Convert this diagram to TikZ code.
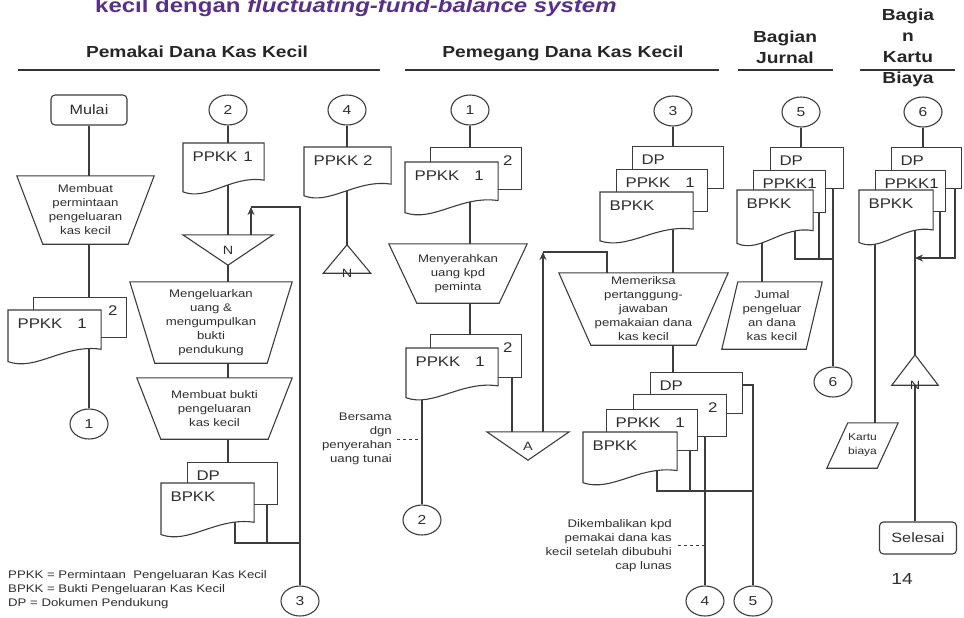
\documentclass[tikz,border=0pt]{standalone}
\usepackage{fontspec}
\setmainfont{Liberation Sans}[FakeStretch=1.2]
\usetikzlibrary{shapes.geometric, arrows.meta, backgrounds}

\definecolor{lc}{HTML}{3C3C3C}
\definecolor{tc}{HTML}{2E2E2E}
\definecolor{ttl}{HTML}{58308A}

\newcommand{\doctext}{\fontsize{14}{16}\selectfont}
\newcommand{\boxtext}{\fontsize{11}{14}\selectfont}
\newcommand{\headtext}{\fontsize{16}{21}\selectfont\bfseries}
\newcommand{\kgap}{\hspace{15pt}}

% flowchart document symbol: flat top, wavy bottom
\makeatletter
\pgfdeclareshape{wavedoc}{
  \inheritsavedanchors[from=rectangle]
  \inheritanchorborder[from=rectangle]
  \inheritanchor[from=rectangle]{center}
  \inheritanchor[from=rectangle]{north}
  \inheritanchor[from=rectangle]{south}
  \inheritanchor[from=rectangle]{east}
  \inheritanchor[from=rectangle]{west}
  \inheritanchor[from=rectangle]{north east}
  \inheritanchor[from=rectangle]{north west}
  \inheritanchor[from=rectangle]{south east}
  \inheritanchor[from=rectangle]{south west}
  \backgroundpath{%
    \southwest \edef\wdc@xa{\the\pgf@x}\edef\wdc@ya{\the\pgf@y}%
    \northeast \edef\wdc@xb{\the\pgf@x}\edef\wdc@yb{\the\pgf@y}%
    \pgfpathmoveto{\pgfpoint{\wdc@xa}{\wdc@yb}}%
    \pgfpathlineto{\pgfpoint{\wdc@xb}{\wdc@yb}}%
    \pgfpathlineto{\pgfpoint{\wdc@xb}{\wdc@ya+0.3*((\wdc@yb)-(\wdc@ya))}}%
    \pgfpathcurveto
      {\pgfpoint{\wdc@xa+0.6*((\wdc@xb)-(\wdc@xa))}{\wdc@ya+0.4*((\wdc@yb)-(\wdc@ya))}}%
      {\pgfpoint{\wdc@xa+0.3*((\wdc@xb)-(\wdc@xa))}{\wdc@ya-0.1*((\wdc@yb)-(\wdc@ya))}}%
      {\pgfpoint{\wdc@xa}{\wdc@ya+0.08*((\wdc@yb)-(\wdc@ya))}}%
    \pgfpathclose
  }
}
\makeatother

\tikzset{
  wire/.style={draw=lc, line width=1.1pt},
  laneline/.style={draw=black!80, line width=1.8pt},
  lane/.style={anchor=base, font=\headtext, text=black!85, inner sep=0pt, align=center},
  offpage/.style={ellipse, draw=lc, line width=1.1pt, fill=white, minimum width=38pt,
    minimum height=30pt, inner sep=0pt, font=\fontsize{13}{13}\selectfont},
  term/.style={rectangle, rounded corners=4pt, draw=lc, line width=1.1pt, fill=white,
    font=\fontsize{13.5}{14}\selectfont},
  doc/.code 2 args={\pgfmathsetmacro\docw{#1-18}\pgfmathsetmacro\docd{#2-21}%
    \tikzset{wavedoc, draw=lc, line width=1.1pt, fill=white, anchor=north west,
      inner xsep=9pt, inner ysep=3pt, text width=\docw pt, text height=15pt,
      text depth=\docd pt, align=left, font=\doctext}},
  sheet/.code 2 args={\pgfmathsetmacro\docw{#1-18}\pgfmathsetmacro\docd{#2-21}%
    \tikzset{rectangle, draw=lc, line width=1.1pt, fill=white, anchor=north west,
      inner xsep=9pt, inner ysep=3pt, text width=\docw pt, text height=15pt,
      text depth=\docd pt, align=left, font=\doctext}},
  manual/.style={rectangle, inner sep=0pt, align=center,
    append after command={\pgfextra{\begin{pgfinterruptpath}
      \draw[wire] (\tikzlastnode.north west) -- (\tikzlastnode.north east)
        -- ([xshift=-#1]\tikzlastnode.south east) -- ([xshift=#1]\tikzlastnode.south west) -- cycle;
    \end{pgfinterruptpath}}}},
  io/.style={rectangle, inner sep=0pt, align=center,
    append after command={\pgfextra{\begin{pgfinterruptpath}
      \draw[wire] (\tikzlastnode.south west) -- ([xshift=#1]\tikzlastnode.north west)
        -- (\tikzlastnode.north east) -- ([xshift=-#1]\tikzlastnode.south east) -- cycle;
    \end{pgfinterruptpath}}}},
  mergedown/.style={rectangle, inner sep=0pt, font=\fontsize{12}{12}\selectfont,
    append after command={\pgfextra{\begin{pgfinterruptpath}
      \draw[wire] (\tikzlastnode.north west) -- (\tikzlastnode.north east)
        -- (\tikzlastnode.south) -- cycle;
    \end{pgfinterruptpath}}}},
  mergeup/.style={rectangle, inner sep=0pt,
    label={[anchor=center, inner sep=0pt, font=\fontsize{12}{12}\selectfont]south:N},
    append after command={\pgfextra{\begin{pgfinterruptpath}
      \draw[wire] (\tikzlastnode.south west) -- (\tikzlastnode.south east)
        -- (\tikzlastnode.north) -- cycle;
    \end{pgfinterruptpath}}}},
  note/.style={anchor=north east, inner sep=0pt, align=right, font=\boxtext}
}

\begin{document}
\begin{tikzpicture}[x=1pt, y=-1pt, >={Stealth[length=8pt, width=7pt]}, font=\boxtext, text=tc]
\useasboundingbox (0,0) rectangle (964,618);

% title and lanes
\node[anchor=base west, inner sep=0pt, text=ttl, font=\fontsize{20}{24}\selectfont\bfseries]
  (title) at (95,13) {kecil dengan \textit{fluctuating-fund-balance system}};
\node[lane] (hdA) at (197,58) {Pemakai Dana Kas Kecil};
\node[lane] (hdB) at (563,58) {Pemegang Dana Kas Kecil};
\node[lane, anchor=north] (hdC) at (785,30.5) {Bagian\\Jurnal};
\node[lane, anchor=north] (hdD) at (908,8.5) {Bagia\\n\\Kartu\\Biaya};
\draw[laneline] (18,70) -- (380,70);
\draw[laneline] (405,70) -- (719,70);
\draw[laneline] (738,70) -- (833,70);
\draw[laneline] (860,70) -- (955,70);

% Pemakai Dana Kas Kecil
\node[term, minimum width=76pt, minimum height=30pt] (mulai) at (89,110) {Mulai};
\node[manual=26pt, minimum width=137pt, minimum height=68pt] (t1) at (85.5,210)
  {Membuat\\permintaan\\pengeluaran\\kas kecil};
\node[sheet={93}{40}] (s1b) at (33,297) {\hfill 2};
\node[doc={92}{55}] (d1) at (8,310) {PPKK\kgap 1};
\node[offpage] (c1a) at (89,424) {1};

\node[offpage] (c2a) at (228,110) {2};
\node[doc={80}{52}] (d2) at (183,143) {\mbox{PPKK\hspace{6pt}1}};
\node[mergedown, minimum width=90pt, minimum height=30pt] (n1) at (228,250) {N};
\node[manual=25pt, minimum width=162pt, minimum height=81pt] (t2) at (211,322.5)
  {Mengeluarkan\\uang \&\\mengumpulkan\\bukti\\pendukung};
\node[manual=24pt, minimum width=155pt, minimum height=61pt] (t3) at (214.5,408.5)
  {Membuat bukti\\pengeluaran\\kas kecil};
\node[sheet={90}{42}] (s3b) at (187,462) {DP};
\node[doc={92}{55}] (d4) at (161,483) {BPKK};
\node[offpage] (c3a) at (300,601) {3};

\node[offpage] (c4a) at (347,110) {4};
\node[doc={86}{52}] (d3) at (304,147) {PPKK 2};
\node[mergeup, minimum width=47pt, minimum height=28pt] (n2) at (347,259) {};

\node[anchor=north west, inner sep=0pt, align=left, font=\boxtext] (legend) at (8,570)
  {PPKK = Permintaan \ Pengeluaran Kas Kecil\\BPKK = Bukti Pengeluaran Kas Kecil\\DP = Dokumen Pendukung};

% Pemegang Dana Kas Kecil
\node[offpage] (c1b) at (470,110) {1};
\node[sheet={91}{42}] (s5b) at (430,147) {\hfill 2};
\node[doc={92}{54}] (d5) at (405,162) {PPKK\kgap 1};
\node[manual=28pt, minimum width=138pt, minimum height=59pt] (t4) at (458,273.5)
  {Menyerahkan\\uang kpd\\peminta};
\node[sheet={91}{43}] (s6b) at (430,334) {\hfill 2};
\node[doc={91}{53}] (d6) at (406,348) {PPKK\kgap 1};
\node[note] (note1) at (392,413) {Bersama\\dgn\\penyerahan\\uang tunai};
\node[offpage] (c2b) at (422,520) {2};
\node[mergedown, minimum width=82pt, minimum height=28pt] (a) at (528,446) {A};

\node[offpage] (c3b) at (673,111) {3};
\node[sheet={91}{42}] (s7a) at (632,146) {DP};
\node[sheet={91}{42}] (s7b) at (616,169) {PPKK\kgap 1};
\node[doc={92}{52}] (d7) at (600,192) {BPKK};
\node[manual=32pt, minimum width=169pt, minimum height=72pt] (t5) at (643.5,309)
  {Memeriksa\\pertanggung-\\jawaban\\pemakaian dana\\kas kecil};
\node[sheet={92}{41}] (s8a) at (650,372) {DP};
\node[sheet={93}{42}] (s8b) at (633,394) {\hfill 2};
\node[sheet={91}{41}] (s8c) at (606,409) {PPKK\kgap 1};
\node[doc={93}{54}] (d8) at (583,432) {BPKK};
\node[note] (note2) at (672,519) {Dikembalikan kpd\\pemakai dana kas\\kecil setelah dibubuhi\\cap lunas};
\node[offpage] (c4b) at (705,601) {4};
\node[offpage] (c5b) at (753,601) {5};

% Bagian Jurnal
\node[offpage] (c5a) at (801,112) {5};
\node[sheet={73}{41}] (s9a) at (770,147) {DP};
\node[sheet={72}{42}] (s9b) at (753,170) {PPKK1};
\node[doc={75}{57}] (d9) at (737,190) {BPKK};
\node[io=16pt, minimum width=100pt, minimum height=67pt] (jr) at (772,315.5)
  {Jumal\\pengeluar\\an dana\\kas kecil};
\node[offpage] (c6b) at (833,382) {6};

% Bagian Kartu Biaya
\node[offpage] (c6a) at (923,112) {6};
\node[sheet={70}{41}] (s10a) at (891,147) {DP};
\node[sheet={70}{41}] (s10b) at (875,170) {PPKK1};
\node[doc={73}{56}] (d10) at (859,190) {BPKK};
\node[mergeup, minimum width=46pt, minimum height=30pt] (n3) at (915,370) {};
\node[io=21pt, minimum width=71pt, minimum height=45pt, font=\fontsize{10}{14}\selectfont]
  (kb) at (862.5,445.5) {Kartu\\biaya};
\node[term, minimum width=77pt, minimum height=32pt] (fin) at (918,538) {Selesai};
\node[font=\fontsize{16}{16}\selectfont, inner sep=0pt] (pg) at (902,579) {14};

% junctions
\coordinate (loopP) at (300,207);
\coordinate (loopPend) at (251,207);
\coordinate (jP1) at (235,543);
\coordinate (jP2) at (267,543);
\coordinate (jP3) at (300,543);
\coordinate (wA) at (512,400);
\coordinate (loopQ) at (607,252);
\coordinate (loopQend) at (543,252);
\coordinate (jB1) at (657,491);
\coordinate (jB2) at (690,491);
\coordinate (jB3) at (753,491);
\coordinate (dpout) at (753,385);
\coordinate (wJ) at (762,260);
\coordinate (jJ1) at (795,259);
\coordinate (jJ2) at (819,259);
\coordinate (wK) at (875,300);
\coordinate (jK1) at (940,258);
\coordinate (jK2) at (955,258);

\begin{pgfonlayer}{background}
  % Pemakai
  \draw[wire] (mulai) -- (mulai |- t1.north);
  \draw[wire] (mulai |- t1.south) -- (mulai |- s1b.center);
  \draw[wire] (c1a |- d1.center) -- (c1a);
  \draw[wire] (c2a) -- (c2a |- n1.north);
  \draw[wire] (n1.south) -- (n1.south |- t2.north);
  \draw[wire] (n1.south |- t2.south) -- (n1.south |- t3.north);
  \draw[wire] (n1.south |- t3.south) -- (n1.south |- s3b.center);
  \draw[wire] (jP1 |- d4.center) -- (jP1) -- (jP3);
  \draw[wire] (jP2 |- s3b.center) -- (jP2);
  \draw[wire] (c3a) -- (loopP) -- (loopPend);
  \draw[wire, ->] (loopPend |- n1.north) -- (loopPend);
  \draw[wire] (c4a) -- (c4a |- n2.north);
  % Pemegang
  \draw[wire] (c1b) -- (c1b |- t4.north);
  \draw[wire] (c1b |- t4.south) -- (c1b |- s6b.center);
  \draw[wire] (c2b |- d6.center) -- (c2b);
  \draw[wire, dashed] ([xshift=5pt]note1.east) -- (note1.east -| c2b);
  \draw[wire] (wA |- s6b.center) -- (wA |- a.north);
  \draw[wire] (loopQ |- t5.north) -- (loopQ) -- (loopQend);
  \draw[wire, ->] (loopQend |- a.north) -- (loopQend);
  \draw[wire] (c3b) -- (c3b |- t5.north);
  \draw[wire] (c3b |- t5.south) -- (c3b |- s8a.center);
  \draw[wire] (jB1 |- d8.center) -- (jB1) -- (jB3);
  \draw[wire] (jB2 |- s8c.center) -- (jB2);
  \draw[wire] (c4b |- s8b.center) -- (c4b);
  \draw[wire] (dpout -| s8a.center) -- (dpout) -- (c5b);
  \draw[wire, dashed] ([xshift=6pt]note2.east) -- (note2.east -| c4b);
  % Jurnal
  \draw[wire] (c5a) -- (c5a |- s9a.center);
  \draw[wire] (wJ |- d9.center) -- (wJ |- jr.north);
  \draw[wire] (jJ1 |- d9.center) -- (jJ1) -- (jJ2);
  \draw[wire] (jJ2 |- s9b.center) -- (jJ2) -- (jJ2 -| c6b);
  \draw[wire] (c6b |- s9a.center) -- (c6b);
  % Kartu Biaya
  \draw[wire] (c6a) -- (c6a |- s10a.center);
  \draw[wire] (wK |- d10.center) -- (wK |- kb.north);
  \draw[wire] (n3.north |- d10.center) -- (n3.north);
  \draw[wire] (n3.south) -- (n3.south |- fin.north);
  \draw[wire] (jK1 |- s10b.center) -- (jK1);
  \draw[wire, ->] (jK2 |- s10a.center) -- (jK2) -- (jK2 -| n3.north);
\end{pgfonlayer}
\end{tikzpicture}
\end{document}
